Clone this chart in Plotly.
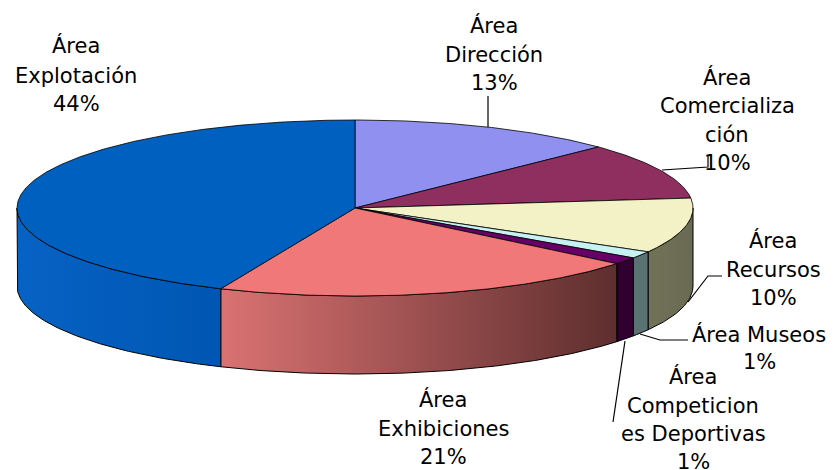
import numpy as np
import plotly.graph_objects as go

# ---------------- data ----------------
categories = ["Área Dirección", "Área Comercialización", "Área Recursos", "Área Museos",
              "Área Competiciones Deportivas", "Área Exhibiciones", "Área Explotación"]
# shares (labels show them rounded)
values = [12.8, 10.4, 10.1, 1.3, 1.3, 20.6, 43.5]
# wrapped label text as shown in the chart (percent appended from values)
label_lines = [
    ["Área", "Dirección"],
    ["Área", "Comercializa", "ción"],
    ["Área", "Recursos"],
    ["Área Museos"],
    ["Área", "Competicion", "es Deportivas"],
    ["Área", "Exhibiciones"],
    ["Área", "Explotación"],
]

# ---------------- styles / geometry ----------------
top_colors = ["#9090F0", "#8E2F60", "#F2F2C6", "#C6F2F2", "#660066", "#F07878", "#0060C0"]
wall_colors = [("#6060A8", "#6060A8"), ("#5E1F40", "#5E1F40"), ("#727258", "#6A6A54"),
               ("#5A7272", "#5A7272"), ("#300030", "#300030"), ("#DA7272", "#5E2E2E"),
               ("#0662C4", "#0056B2")]
CX, CY, RX, RY, DEPTH = 355, 208, 338, 88, 78
FONT = dict(family="DejaVu Sans", size=21, color="black")

# label placement: centre x, baselines of each line (the percent line is last)
label_pos = [
    (494, [33, 62, 90]),
    (727, [85, 113, 142, 170]),
    (773, [248, 277, 305]),
    (759, [342, 369]),
    (693, [384, 413, 441, 469]),
    (443, [407, 436, 464]),
    (76, [53, 83, 111]),
]
leaders = [
    [(488, 96), (488, 127)],
    [(662, 170), (708, 167), (708, 156)],
    [(688, 302), (708, 276), (722, 276)],
    [(640, 334), (660, 340), (688, 340)],
    [(625, 341), (613, 422)],
    [],
    [],
]

total = float(sum(values))
fracs = np.array(values) / total
ends = np.cumsum(fracs) * 2 * np.pi
starts = ends - fracs * 2 * np.pi


def pt(theta, dy=0.0):
    return CX + RX * np.sin(theta), CY - RY * np.cos(theta) + dy


fig = go.Figure()

# side walls (front half only: theta in [pi/2, 3pi/2])
for i in range(len(values)):
    a = max(starts[i], np.pi / 2)
    b = min(ends[i], 3 * np.pi / 2)
    if b <= a:
        continue
    th = np.linspace(a, b, max(4, int((b - a) / (2 * np.pi) * 720)))
    xt, yt = pt(th)
    xb, yb = pt(th[::-1], DEPTH)
    xs = np.concatenate([xt, xb, xt[:1]])
    ys = np.concatenate([yt, yb, yt[:1]])
    c0, c1 = wall_colors[i]
    fig.add_trace(go.Scatter(
        x=xs, y=ys, mode="lines", fill="toself",
        fillgradient=dict(type="horizontal", colorscale=[[0, c0], [1, c1]]),
        line=dict(color="black", width=1), hoverinfo="skip", showlegend=False))

# top faces
for i in range(len(values)):
    th = np.linspace(starts[i], ends[i], max(4, int(fracs[i] * 720)))
    xa, ya = pt(th)
    xs = np.concatenate([[CX], xa, [CX]])
    ys = np.concatenate([[CY], ya, [CY]])
    fig.add_trace(go.Scatter(
        x=xs, y=ys, mode="lines", fill="toself", fillcolor=top_colors[i],
        line=dict(color="black", width=0.8), hoverinfo="skip", showlegend=False,
        name=categories[i]))

# labels
annotations = []
shapes = []
for i in range(len(values)):
    cx, baselines = label_pos[i]
    lines = label_lines[i] + [f"{fracs[i]*100:.0f}%"]
    for txt, bl in zip(lines, baselines):
        annotations.append(dict(x=cx, y=bl - 7.5, text=txt, showarrow=False,
                                xanchor="center", yanchor="middle", font=FONT,
                                xref="x", yref="y"))
    pts = leaders[i]
    if pts:
        path = "M " + " L ".join(f"{x},{y}" for x, y in pts)
        shapes.append(dict(type="path", path=path, xref="x", yref="y",
                           line=dict(color="black", width=1.2)))

fig.update_layout(
    width=835, height=470, autosize=False,
    margin=dict(l=0, r=0, t=0, b=0),
    paper_bgcolor="white", plot_bgcolor="white",
    xaxis=dict(range=[0, 835], visible=False, fixedrange=True),
    yaxis=dict(range=[470, 0], visible=False, fixedrange=True),
    annotations=annotations, shapes=shapes, showlegend=False,
)

fig.write_html("out.html", config={"displayModeBar": False},
               post_script="document.body.style.margin='0';document.body.style.overflow='hidden';")
